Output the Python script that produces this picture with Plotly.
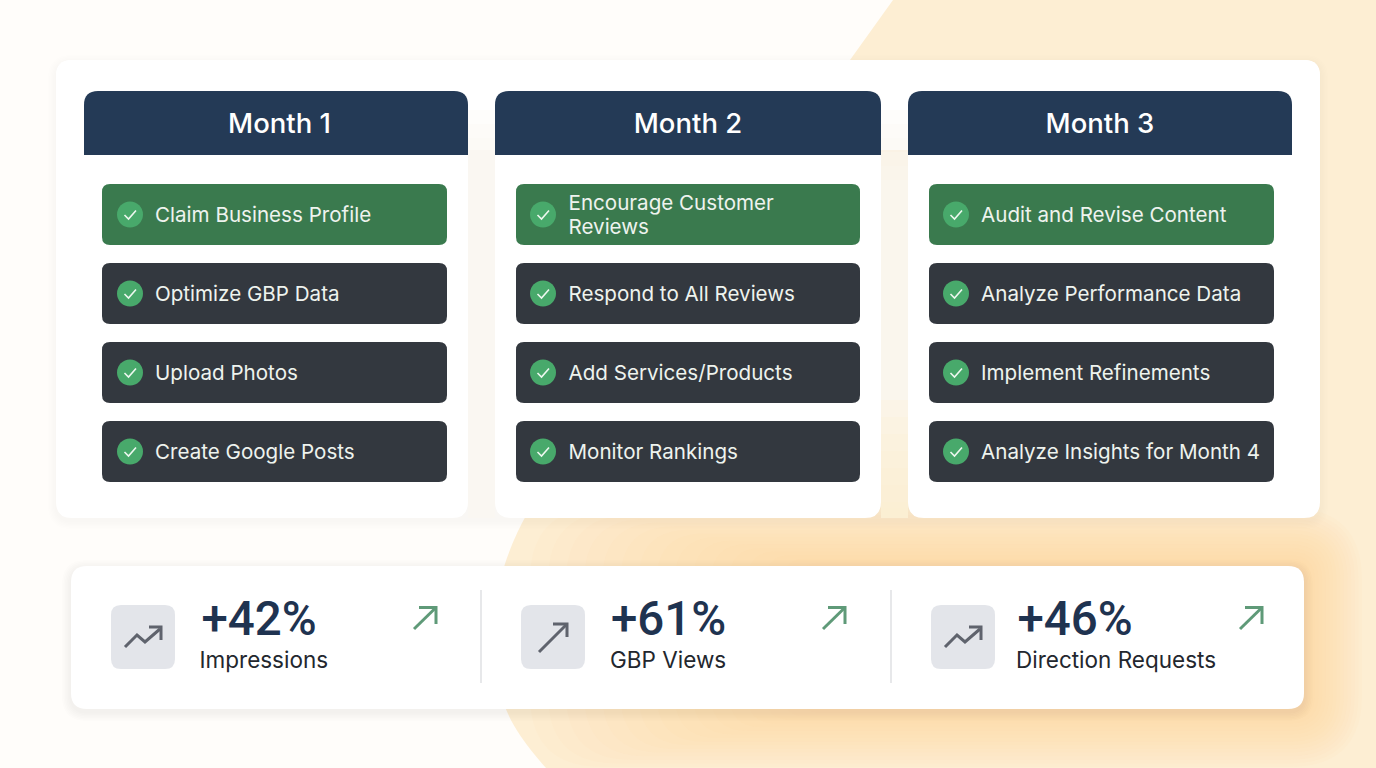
import plotly.graph_objects as go

months = ["Month 1", "Month 2", "Month 3"]
tasks = [
    ["Claim Business Profile", "Optimize GBP Data", "Upload Photos", "Create Google Posts"],
    [["Encourage Customer", "Reviews"], "Respond to All Reviews", "Add Services/Products", "Monitor Rankings"],
    ["Audit and Revise Content", "Analyze Performance Data", "Implement Refinements", "Analyze Insights for Month 4"],
]
kpi_values = [42, 61, 46]
kpi_labels = ["Impressions", "GBP Views", "Direction Requests"]

FONT = "Inter"
NAVY = "#243a56"
GREEN = "#3a7a4e"
DARK = "#33383f"
CHECK = "#48a96b"
BLOB = "#fdeed3"

W, H = 1376, 768
card_x = [(56, 468), (495, 881), (908, 1320)]
head_x = [(84, 468), (495, 881), (908, 1292)]
task_x = [(102, 447), (516, 860), (929, 1274)]
circle_x = [130, 543, 956]
task_text_x = [155, 568.5, 981]
row_y = [(184, 245), (263, 324), (342, 403), (421, 482)]
kpi_icon_x = [111, 521, 931]
kpi_text_x = [201.5, 611, 1017.5]
kpi_label_x = [199.5, 610, 1016]
kpi_arrow_x = [413, 822, 1239]
kpi_icon_kind = ["trend", "arrow", "trend"]


def rrect(x0, y0, x1, y1, r=None, tl=0, tr=0, br=0, bl=0):
    if r is not None:
        tl = tr = br = bl = r
    return (f"M{x0+tl},{y0} L{x1-tr},{y0} Q{x1},{y0} {x1},{y0+tr} L{x1},{y1-br} Q{x1},{y1} {x1-br},{y1} "
            f"L{x0+bl},{y1} Q{x0},{y1} {x0},{y1-bl} L{x0},{y0+tl} Q{x0},{y0} {x0+tl},{y0} Z")


shapes = []


def add(path, fill, opacity=1.0):
    shapes.append(dict(type="path", path=path, fillcolor=fill, opacity=opacity,
                       line=dict(width=0), layer="below"))


def shadow(x0, y0, x1, y1, r, color, spread, dy, alpha, steps=7):
    for i in range(steps):
        s = spread * (1 - i / steps)
        add(rrect(x0 - s, y0 - s + dy, x1 + s, y1 + s + dy, r + s), color, alpha)


# page background and peach blob
add(f"M0,0 L{W},0 L{W},{H} L0,{H} Z", "#fffdfa")
blob = "M893,0 L1376,0 L1376,768 L546,768 Q510,728 503,700 L503,570 Q512,540 528,512 L850,60 Z"
add(blob, BLOB)
# warm glow around the KPI strip, fading toward the left of the blob
for i in range(16):
    s = 58 * (1 - i / 16)
    add(rrect(820 - 5 * s, 566 - s, 1304 + s, 709 + s, 14 + s), "#f9d183", 0.042)

# main panel
shadow(56, 60, 1320, 518, 16, "#807a70", 8, 3, 0.008, 6)
add(rrect(56, 60, 1320, 150, tl=16, tr=16), "#ffffff")
for (x0, x1) in card_x:
    add(rrect(x0, 60, x1, 518, r=16), "#ffffff")
# gaps between the cards: white at the top, warming toward the bottom
for i, (a, b) in enumerate(zip(card_x[:-1], card_x[1:])):
    for k in range(6):
        add(f"M{a[1]},{110 + k * 14} L{b[0]},{110 + k * 14} L{b[0]},518 L{a[1]},518 Z", "#fbf8f1", 0.3)
    if i == 1:
        for k in range(7):
            add(f"M{a[1]},{400 + k * 17} L{b[0]},{400 + k * 17} L{b[0]},518 L{a[1]},518 Z", "#fdeccd", 0.18)
for (x0, x1) in head_x:
    add(rrect(x0, 91, x1, 155, tl=14, tr=14), NAVY)
for c, (x0, x1) in enumerate(task_x):
    for r, (y0, y1) in enumerate(row_y):
        add(rrect(x0, y0, x1, y1, r=8), GREEN if r == 0 else DARK)

# KPI strip
shadow(71, 566, 1304, 709, 16, "#707070", 9, 3, 0.012, 6)
add(rrect(71, 566, 1304, 709, r=16), "#ffffff")
for x in (481, 891):
    shapes.append(dict(type="line", x0=x, x1=x, y0=590, y1=683, line=dict(color="#dfe0e3", width=1.5), layer="below"))
for x in kpi_icon_x:
    add(rrect(x, 605, x + 64, 669, r=10), "#e3e5ea")

fig = go.Figure()

# month headers
fig.add_trace(go.Scatter(
    x=[(a + b) / 2 + d for (a, b), d in zip(head_x, (3.5, 0, 0))], y=[126] * 3, mode="text", text=months,
    textposition="middle center", textfont=dict(family=FONT, size=27.5, color="#ffffff", weight=500),
    hoverinfo="skip"))

# check circles, ticks and task labels
for c, cx in enumerate(circle_x):
    ys = [(a + b) / 2 for a, b in row_y]
    fig.add_trace(go.Scatter(x=[cx] * 4, y=ys, mode="markers",
                             marker=dict(size=26, color=CHECK, line=dict(width=0)), hoverinfo="skip"))
    tx, ty = [], []
    for y in ys:
        tx += [cx - 5.5, cx - 1.5, cx + 6, None]
        ty += [y + 0.5, y + 4.5, y - 4, None]
    fig.add_trace(go.Scatter(x=tx, y=ty, mode="lines", line=dict(color="#eef8f0", width=1.6), hoverinfo="skip"))
    lx, ly, lt = [], [], []
    for y, t in zip(ys, tasks[c]):
        if isinstance(t, list):
            lines = list(zip((-10, 14), t))
        else:
            lines = [(2, t)]
        for dy, s in lines:
            lx.append(task_text_x[c])
            ly.append(y + dy)
            lt.append(s)
    fig.add_trace(go.Scatter(x=lx, y=ly, mode="text", text=lt, textposition="middle right",
                             textfont=dict(family=FONT, size=20.6, color="#eef3ee"), hoverinfo="skip"))

# KPI numbers and labels
fig.add_trace(go.Scatter(x=kpi_text_x, y=[623] * 3, mode="text", text=[f"+{v}%" for v in kpi_values],
                         textposition="middle right",
                         textfont=dict(family="Roboto", size=47.5, color="#1f3350", weight=550), hoverinfo="skip"))
fig.add_trace(go.Scatter(x=kpi_label_x, y=[662.5] * 3, mode="text", text=kpi_labels, textposition="middle right",
                         textfont=dict(family=FONT, size=22.5, color="#23272e"), hoverinfo="skip"))

# small green arrows
for x in kpi_arrow_x:
    fig.add_trace(go.Scatter(x=[x + 1, x + 23, None, x + 6, x + 23, x + 23],
                             y=[629, 607.5, None, 607.5, 607.5, 624], mode="lines",
                             line=dict(color="#5f9a78", width=3), hoverinfo="skip"))

# KPI icons
for x, kind in zip(kpi_icon_x, kpi_icon_kind):
    if kind == "trend":
        fig.add_trace(go.Scatter(x=[x + 14, x + 26, x + 34, x + 49, None, x + 38, x + 50, x + 50],
                                 y=[647, 635, 642, 629, None, 627, 627, 640], mode="lines",
                                 line=dict(color="#5f636d", width=3), hoverinfo="skip"))
    else:
        fig.add_trace(go.Scatter(x=[x + 18, x + 46, None, x + 32, x + 46, x + 46],
                                 y=[652, 624, None, 624, 624, 637], mode="lines",
                                 line=dict(color="#5f636d", width=3), hoverinfo="skip"))

fig.update_layout(
    width=W, height=H, margin=dict(l=0, r=0, t=0, b=0), showlegend=False,
    paper_bgcolor="#fffdfa", plot_bgcolor="rgba(0,0,0,0)", shapes=shapes,
    xaxis=dict(range=[0, W], visible=False, fixedrange=True),
    yaxis=dict(range=[H, 0], visible=False, fixedrange=True),
)
fig.write_html("out.html", config=dict(displayModeBar=False),
               post_script="document.body.style.margin='0';document.body.style.overflow='hidden';")
